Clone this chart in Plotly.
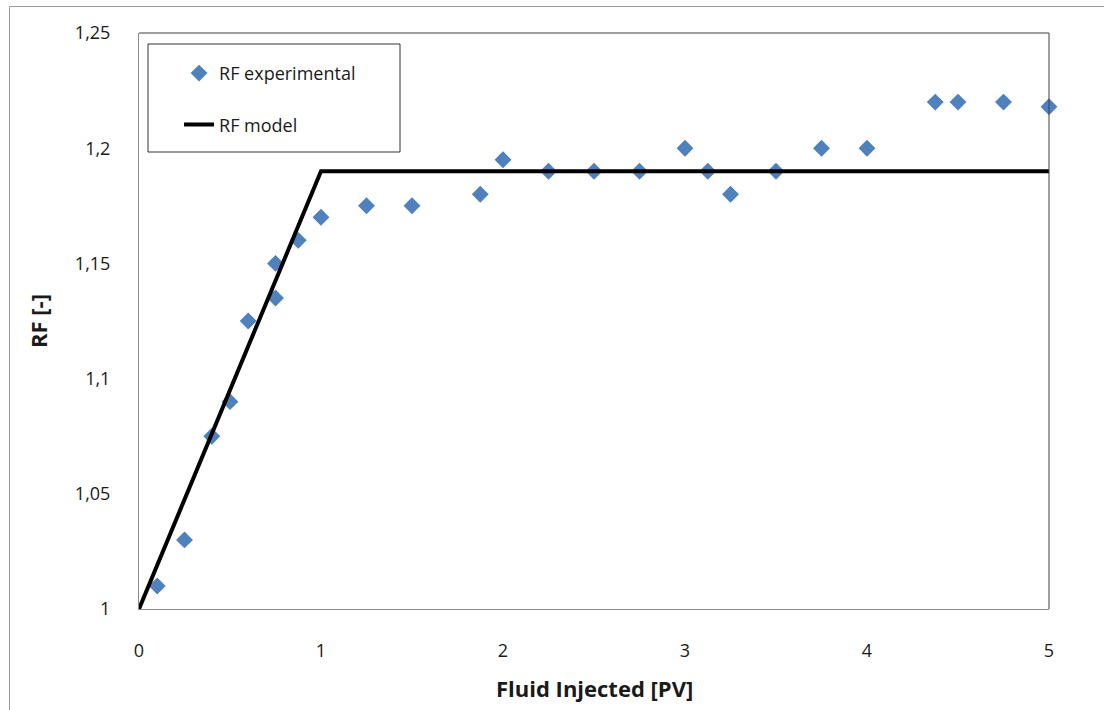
import plotly.graph_objects as go

# Experimental data
x_exp = [0.1, 0.25, 0.4, 0.5, 0.6, 0.75, 0.75, 0.875, 1.0, 1.25, 1.5, 1.875, 2.0,
         2.25, 2.5, 2.75, 3.0, 3.125, 3.25, 3.5, 3.75, 4.0, 4.375, 4.5, 4.75, 5.0]
rf_exp = [1.01, 1.03, 1.075, 1.09, 1.125, 1.15, 1.135, 1.16, 1.17, 1.175, 1.175, 1.18, 1.195,
          1.19, 1.19, 1.19, 1.2, 1.19, 1.18, 1.19, 1.2, 1.2, 1.22, 1.22, 1.22, 1.218]

# Model
x_model = [0, 1, 5]
rf_model = [1.0, 1.19, 1.19]

y_tickvals = [1.0, 1.05, 1.1, 1.15, 1.2, 1.25]
y_ticktext = ["1", "1,05", "1,1", "1,15", "1,2", "1,25"]
x_tickvals = [0, 1, 2, 3, 4, 5]

FONT = "Open Sans"

fig = go.Figure()
fig.add_trace(go.Scatter(
    x=x_exp, y=rf_exp, mode="markers", name="RF experimental",
    legendgroup="a",
    marker=dict(symbol="diamond", size=13, color="#4F81BD"),
    cliponaxis=False,
))
fig.add_trace(go.Scatter(
    x=x_model, y=rf_model, mode="lines", name="RF model",
    legendgroup="b",
    line=dict(color="black", width=4),
))

fig.update_layout(
    width=1104, height=710,
    margin=dict(l=139, r=55, t=33, b=101),
    paper_bgcolor="white", plot_bgcolor="white",
    font=dict(family=FONT, size=17, color="#1a1a1a"),
    showlegend=True,
    legend=dict(
        x=0.044, y=0.962, xanchor="left", yanchor="top",
        bgcolor="rgba(0,0,0,0)", borderwidth=0,
        traceorder="grouped", tracegroupgap=25,
        font=dict(family=FONT, size=18, color="#1a1a1a"),
    ),
    xaxis=dict(
        range=[0, 5], tickvals=x_tickvals, showgrid=False, zeroline=False,
        showline=True, linecolor="#8c8c8c", linewidth=1, ticks="",
        ticklabelstandoff=25,
        tickfont=dict(family=FONT, size=18),
    ),
    yaxis=dict(
        range=[1.0, 1.25], tickvals=y_tickvals, ticktext=y_ticktext,
        showgrid=False, zeroline=False,
        showline=True, linecolor="#8c8c8c", linewidth=1, ticks="",
        ticklabelstandoff=24,
        tickfont=dict(family=FONT, size=18),
    ),
    shapes=[
        # top and right plot border
        dict(type="line", xref="paper", yref="paper", x0=0, x1=1, y0=1, y1=1,
             line=dict(color="#404040", width=1)),
        dict(type="line", xref="paper", yref="paper", x0=1, x1=1, y0=0, y1=1,
             line=dict(color="#404040", width=1)),
        # legend box
        dict(type="rect", xref="paper", yref="paper",
             x0=(148 - 139) / 910, x1=(400 - 139) / 910,
             y0=1 - (152 - 33) / 576, y1=1 - (44 - 33) / 576,
             line=dict(color="#333333", width=1), fillcolor="rgba(0,0,0,0)"),
        # outer chart border
        dict(type="rect", xref="paper", yref="paper",
             x0=(9.5 - 139) / 910, x1=1.2,
             y0=-0.5, y1=1 + (33 - 6.5) / 576,
             line=dict(color="#9a9a9a", width=1), fillcolor="rgba(0,0,0,0)"),
    ],
    annotations=[
        dict(text="<b>Fluid Injected [PV]</b>", xref="paper", yref="paper",
             x=0.5, y=-(688 - 609) / 576, xanchor="center", yanchor="middle",
             showarrow=False, font=dict(family=FONT, size=22, color="#1a1a1a")),
        dict(text="<b>RF [-]</b>", xref="paper", yref="paper",
             x=(38 - 139) / 910, y=0.5, xanchor="center", yanchor="middle",
             textangle=-90, showarrow=False,
             font=dict(family=FONT, size=22, color="#1a1a1a")),
    ],
)

fig.write_html("out.html")
